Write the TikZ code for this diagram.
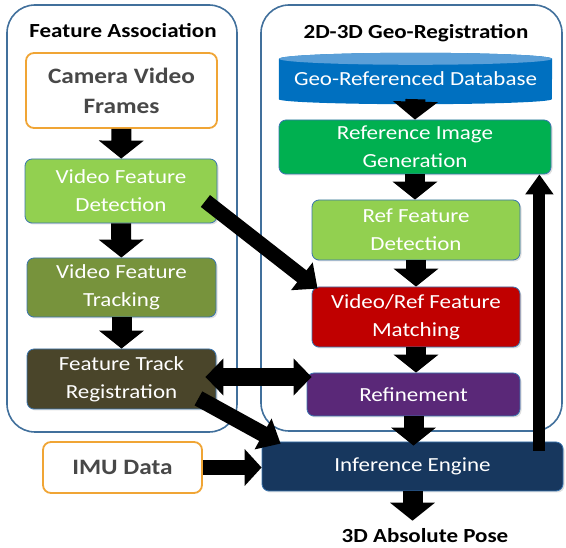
\documentclass[tikz,border=0pt]{standalone}
\usepackage{fontspec}
\setmainfont{Carlito}[FakeStretch=1.15]
\usepackage{tikz}
\usetikzlibrary{arrows.meta,positioning,calc,shadows}

\definecolor{frameblue}{HTML}{41709C}
\definecolor{edgeblue}{HTML}{3A75B0}
\definecolor{srcorange}{HTML}{F0A535}
\definecolor{txtgray}{HTML}{484848}
\definecolor{lightgreen}{HTML}{92D050}
\definecolor{olive}{HTML}{77933C}
\definecolor{darkbrown}{HTML}{4A452A}
\definecolor{dbblue}{HTML}{0070C0}
\definecolor{dbtop}{HTML}{5A9FD8}
\definecolor{gengreen}{HTML}{00B050}
\definecolor{matchred}{HTML}{C00000}
\definecolor{refpurple}{HTML}{5A2878}
\definecolor{navy}{HTML}{17375E}

\begin{document}
\begin{tikzpicture}[x=1pt, y=-1pt,
    group/.style={draw=frameblue, line width=1.6pt, rounded corners=28pt},
    title/.style={font=\fontsize{20}{24}\selectfont\bfseries, text=black},
    source/.style={rectangle, draw=srcorange, fill=white, line width=1.8pt, rounded corners=8pt, align=center, font=\fontsize{22}{30}\selectfont\bfseries, text=txtgray},
    block/.style={rectangle, draw=edgeblue, line width=0.8pt, rounded corners=7pt, align=center, text=white, font=\fontsize{20}{28}\selectfont, drop shadow={opacity=0.25, shadow xshift=1.5pt, shadow yshift=-1.5pt}},
    dbtext/.style={rectangle, minimum width=273, minimum height=40, text=white, font=\fontsize{20}{24}\selectfont},
    arrow/.style={-{Triangle[length=18pt, width=44pt]}, line width=20pt},
    thinarrow/.style={-{Triangle[length=20pt, width=34pt]}, line width=15pt},
    backarrow/.style={-{Triangle[length=20pt, width=27pt]}, line width=12pt},
    twoway/.style={{Triangle[length=18pt, width=36pt]}-{Triangle[length=18pt, width=36pt]}, line width=18pt}
]
    \useasboundingbox (0,0) rectangle (566,548);

    % Group frames
    \draw[group] (7,5) rectangle (237,432);
    \draw[group] (261,5) rectangle (562,431);
    \node[title] (fatitle) at (123,31) {Feature Association};
    \node[title] (grtitle) at (416,33) {2D-3D Geo-Registration};

    % Feature association column
    \node[source, minimum width=191, minimum height=75] (camera) at (121.5,90.5) {Camera Video\\Frames};
    \node[block, fill=lightgreen, minimum width=192, minimum height=64] (vdet) at (121,191) {Video Feature\\Detection};
    \node[block, fill=olive, minimum width=189, minimum height=59] (vtrack) at (121.5,287.5) {Video Feature\\Tracking};
    \node[block, fill=darkbrown, minimum width=189, minimum height=60] (ftreg) at (121.5,379) {Feature Track\\Registration};
    \node[source, minimum width=159, minimum height=51] (imu) at (122.5,467.5) {IMU Data};

    % Geo-registration column
    \node[dbtext] (geodb) at (415.5,79) {};
    \fill[dbblue] (geodb.north west) -- (geodb.south west)
        arc[start angle=180, end angle=0, x radius=136.5, y radius=5]
        -- (geodb.north east)
        arc[start angle=0, end angle=-180, x radius=136.5, y radius=6] -- cycle;
    \fill[dbtop] (geodb.north) ellipse[x radius=136.5, y radius=6];
    \node[dbtext] (geolabel) at (geodb) {Geo-Referenced Database};

    \node[block, fill=gengreen, minimum width=272, minimum height=54] (refgen) at (415,147) {Reference Image\\Generation};
    \node[block, fill=lightgreen, minimum width=208, minimum height=60] (refdet) at (416,230) {Ref Feature\\Detection};
    \node[block, fill=matchred, minimum width=208, minimum height=60] (match) at (416,317) {Video/Ref Feature\\Matching};
    \node[block, fill=refpurple, minimum width=213, minimum height=43] (refine) at (413.5,394.5) {Refinement};
    \node[block, fill=navy, minimum width=301, minimum height=49] (infer) at (412.5,466.5) {Inference Engine};
    \node[title, inner sep=8pt] (pose) at (425,536) {3D Absolute Pose};

    % Flow arrows
    \draw[arrow] (camera) -- (vdet);
    \draw[arrow] (vdet) -- (vtrack);
    \draw[arrow] (vtrack) -- (ftreg);
    \draw[arrow] (geodb.south) -- (refgen.north);
    \draw[arrow] (refgen.south) -- (refgen.south |- refdet.north);
    \draw[arrow] (refdet) -- (match);
    \draw[arrow] (match.south) -- (match.south |- refine.north);
    \draw[arrow] (refine.south) -- ($(refine.south |- infer.north)+(0,4)$);
    \draw[arrow] (infer.south) -- (infer.south |- pose.north);

    % Cross connections
    \draw[thinarrow] ($(vdet.east)+(-12,10)$) -- ($(match.north west)+(6,2)$);
    \draw[thinarrow, line width=16pt] ($(ftreg.south east)+(-18,-11)$) -- ($(infer.north west)+(19,2)$);
    \draw[twoway] ($(ftreg.east)+(-11,-2)$) -- ($(refine.west |- ftreg.east)+(5,-2)$);
    \draw[arrow, line width=15pt, -{Triangle[length=17pt, width=36pt]}] (imu.east) -- (infer.west |- imu.east);

    % Feedback
    \coordinate (fb) at ($(infer.north east)+(-24,9)$);
    \draw[backarrow] (fb) -- (fb |- refgen.south);
\end{tikzpicture}
\end{document}
